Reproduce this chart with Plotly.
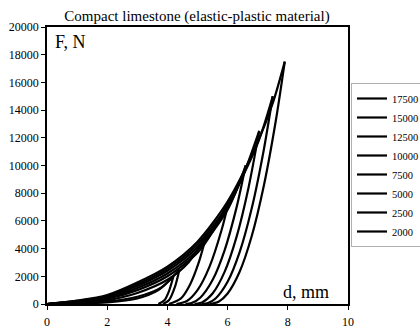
import plotly.graph_objects as go

FONT = "Liberation Serif, Times New Roman, serif"

series_names = ["17500", "15000", "12500", "10000", "7500", "5000", "2500", "2000"]

# loading branches (d in mm, F in N)
load_17500_d = [0, 1, 2, 3, 4, 5, 6, 7, 7.5, 7.9]
load_17500_f = [0, 250, 650, 1550, 2700, 4500, 7400, 11700, 14500, 17500]
load_15000_d = [0, 1, 2, 3, 4, 5, 6, 7, 7.5]
load_15000_f = [0, 220, 580, 1420, 2550, 4300, 7150, 11600, 15000]
load_12500_d = [0, 1, 2, 3, 4, 5, 6, 6.5, 7.05]
load_12500_f = [0, 195, 520, 1300, 2400, 4100, 6950, 9200, 12500]
load_10000_d = [0, 1, 2, 3, 4, 5, 6, 6.6]
load_10000_f = [0, 165, 450, 1150, 2200, 3900, 6800, 10000]
load_7500_d = [0, 1, 2, 3, 4, 5, 5.5, 6.05]
load_7500_f = [0, 135, 380, 1000, 2000, 3700, 5200, 7500]
load_5000_d = [0, 1, 2, 3, 4, 4.7, 5.3]
load_5000_f = [0, 95, 280, 800, 1750, 3000, 5000]
load_2500_d = [0, 1, 2, 3, 3.8, 4.4]
load_2500_f = [0, 55, 170, 520, 1200, 2500]
load_2000_d = [0, 1, 2, 3, 3.7, 4.2]
load_2000_f = [0, 40, 120, 400, 1000, 2000]

# unloading branches
unl_17500_d = [7.9, 7.6, 7.2, 6.8, 6.4, 6.0, 5.7, 5.4]
unl_17500_f = [17500, 13210, 8500, 4890, 2330, 760, 165, 0]
unl_15000_d = [7.5, 7.2, 6.8, 6.4, 6.0, 5.6, 5.35, 5.15]
unl_15000_f = [15000, 11106, 6890, 3741, 1601, 395, 66, 0]
unl_12500_d = [7.05, 6.7, 6.3, 5.9, 5.5, 5.15, 4.9]
unl_12500_f = [12500, 8455, 4864, 2320, 754, 110, 0]
unl_10000_d = [6.6, 6.3, 5.9, 5.5, 5.1, 4.8, 4.6]
unl_10000_f = [10000, 6994, 3876, 1726, 474, 63, 0]
unl_7500_d = [6.05, 5.8, 5.4, 5.0, 4.65, 4.3]
unl_7500_f = [7500, 5343, 2701, 999, 217, 0]
unl_5000_d = [5.3, 5.05, 4.75, 4.45, 4.05]
unl_5000_f = [5000, 3060, 1397, 408, 0]
unl_2500_d = [4.4, 4.25, 4.05, 3.85]
unl_2500_f = [2500, 1241, 270, 0]
unl_2000_d = [4.2, 4.05, 3.9, 3.7]
unl_2000_f = [2000, 913, 266, 0]

x_ticks = [0, 2, 4, 6, 8, 10]
y_ticks = [0, 2000, 4000, 6000, 8000, 10000, 12000, 14000, 16000, 18000, 20000]

loads = {
    "17500": (load_17500_d, load_17500_f, unl_17500_d, unl_17500_f),
    "15000": (load_15000_d, load_15000_f, unl_15000_d, unl_15000_f),
    "12500": (load_12500_d, load_12500_f, unl_12500_d, unl_12500_f),
    "10000": (load_10000_d, load_10000_f, unl_10000_d, unl_10000_f),
    "7500": (load_7500_d, load_7500_f, unl_7500_d, unl_7500_f),
    "5000": (load_5000_d, load_5000_f, unl_5000_d, unl_5000_f),
    "2500": (load_2500_d, load_2500_f, unl_2500_d, unl_2500_f),
    "2000": (load_2000_d, load_2000_f, unl_2000_d, unl_2000_f),
}

fig = go.Figure()
for name in series_names:
    ld, lf, ud, uf = loads[name]
    fig.add_trace(go.Scatter(x=ld, y=lf, mode="lines", name=name, legendgroup=name,
                             line=dict(color="black", width=2.2, shape="spline", smoothing=0.8)))
    fig.add_trace(go.Scatter(x=ud, y=uf, mode="lines", name=name, legendgroup=name,
                             showlegend=False,
                             line=dict(color="black", width=2.2, shape="spline", smoothing=0.8)))

fig.update_layout(
    width=420, height=330,
    margin=dict(l=47, r=72, t=27, b=26, autoexpand=False),
    paper_bgcolor="white", plot_bgcolor="white",
    font=dict(family=FONT, size=12, color="black"),
    title=dict(text="Compact limestone (elastic-plastic material)", x=197 / 420, xanchor="center",
               xref="container", y=1 - 16 / 330, yanchor="middle", yref="container",
               font=dict(family=FONT, size=15, color="black")),
    showlegend=True,
    legend=dict(xref="container", yref="container", x=351 / 420, xanchor="left",
                y=1 - 83 / 330, yanchor="top",
                bordercolor="#b0b0b0", borderwidth=1, bgcolor="white",
                font=dict(family=FONT, size=10.5), tracegroupgap=0, itemwidth=30),
    annotations=[
        dict(text="F, N", x=0.02, y=0.99, xref="paper", yref="paper", xanchor="left",
             yanchor="top", showarrow=False, font=dict(family=FONT, size=18, color="black")),
        dict(text="d, mm", x=0.945, y=0.0, xref="paper", yref="paper", xanchor="right",
             yanchor="bottom", showarrow=False, font=dict(family=FONT, size=18, color="black")),
    ],
)
fig.update_xaxes(range=[0, 10], tickvals=x_ticks, ticktext=[str(v) for v in x_ticks],
                 showgrid=False, zeroline=False, automargin=False,
                 showline=True, linecolor="black", linewidth=1.5, mirror=True,
                 ticks="outside", ticklen=4, tickcolor="black", ticklabelstandoff=2,
                 tickfont=dict(family=FONT, size=12))
fig.update_yaxes(range=[0, 20000], tickvals=y_ticks, ticktext=[str(v) for v in y_ticks],
                 showgrid=False, zeroline=False, automargin=False,
                 showline=True, linecolor="black", linewidth=1.5, mirror=True,
                 ticks="outside", ticklen=4, tickcolor="black",
                 tickfont=dict(family=FONT, size=12))

fig.write_html("out.html")
